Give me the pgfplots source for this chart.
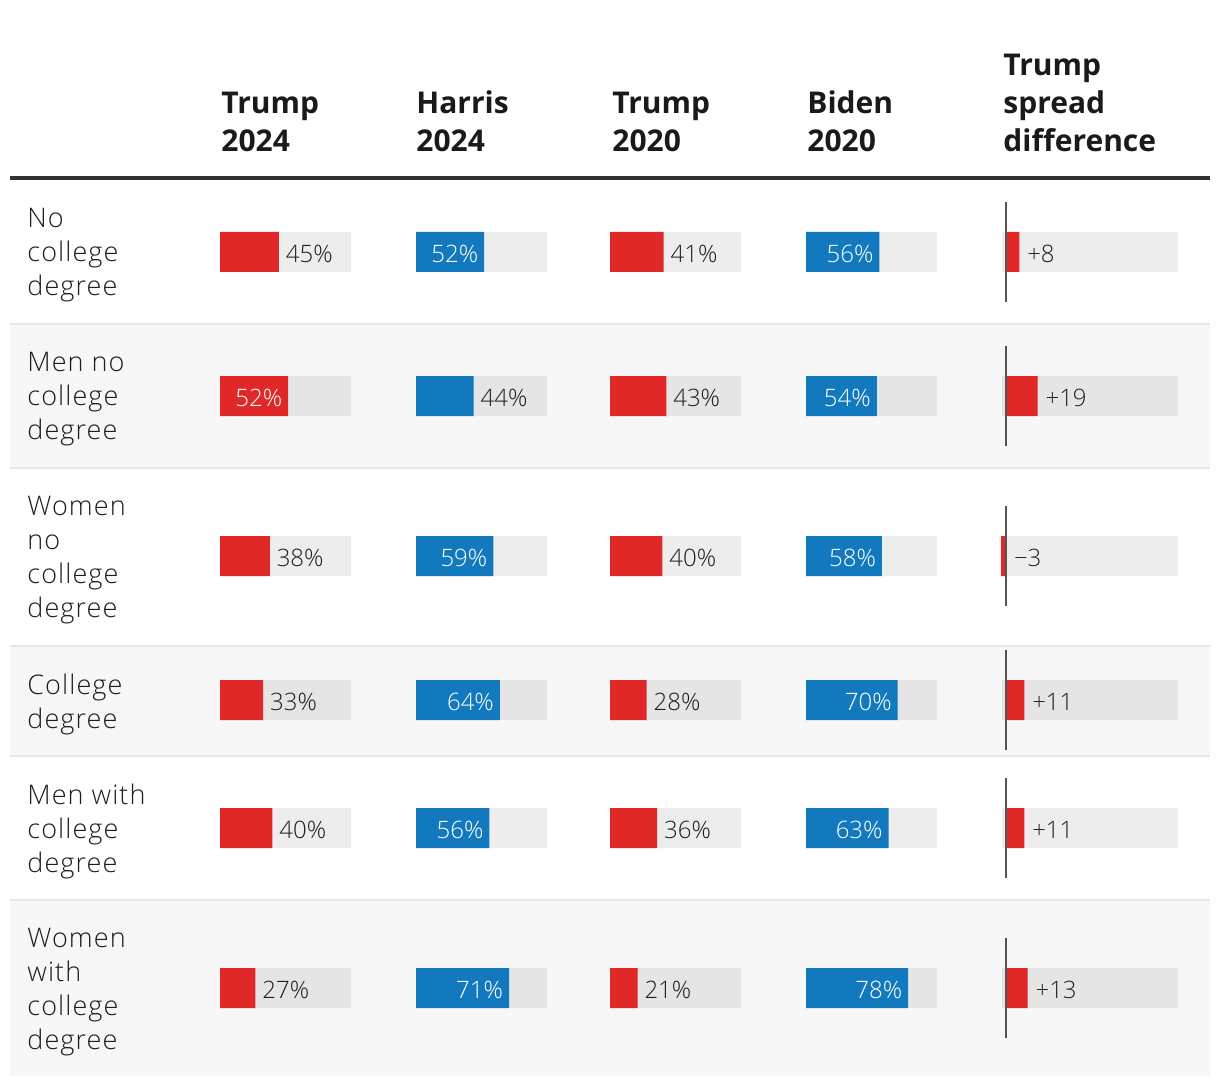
\documentclass[border=0pt]{standalone}
\usepackage{pgfplots}
\pgfplotsset{compat=1.18}
\usepackage{pgfplotstable}
\usepackage{fontspec}
\setmainfont{Open Sans}[UprightFont={* Light}, BoldFont={* Bold}]
\newfontfamily\rowfont{Open Sans}[UprightFont={* Light}, LetterSpace=4]
\definecolor{tred}{HTML}{E02828}
\definecolor{hblue}{HTML}{1279BE}
\definecolor{rowgray}{HTML}{F7F7F7}
\definecolor{sepgray}{HTML}{E6E6E6}
\definecolor{hdrline}{HTML}{333333}
\definecolor{hdrtext}{HTML}{1A1A1A}
\definecolor{textdark}{HTML}{1E1E1E}
\definecolor{zeroline}{HTML}{555555}

% row centre (px from top), Trump 2024, Harris 2024, Trump 2020, Biden 2020, spread
\pgfplotstableread{
y   t24 h24 t20 b20 sp
252 45  52  41  56  8
396 52  44  43  54  19
556 38  59  40  58  -3
700 33  64  28  70  11
828 40  56  36  63  11
988 27  71  21  78  13
}\data

\pgfplotsset{
  colax/.style={scale only axis, anchor=south west, width=65.5pt, height=543pt,
    xmin=0, xmax=100, ymin=0, ymax=1086, y dir=reverse, hide axis, clip=false},
  track/.style={xbar, bar width=20pt, draw=none, fill=black, fill opacity=0.07},
  pct/.style n args={2}{xbar, bar width=20pt, draw=none, fill=#1,
    visualization depends on={\thisrow{#2}\as\rawv},
    nodes near coords={\pgfmathtruncatemacro\iv{round(\rawv)}\ifdim\rawv pt<50pt
        \makebox[0pt][l]{\hspace*{3.5pt}\textcolor{textdark}{\iv\%}}%
      \else
        \makebox[0pt][r]{\textcolor{white}{\iv\%}\hspace*{3pt}}%
      \fi},
    every node near coord/.append style={inner sep=0pt, anchor=center, yshift=-1pt,
      font=\fontsize{12}{14}\selectfont}},
}

\begin{document}
\begin{tikzpicture}
\useasboundingbox (0,0) rectangle (610pt,543pt);
% ---------- background, rules and text ----------
\begin{axis}[at={(0,0)}, anchor=south west, scale only axis, width=610pt, height=543pt,
  xmin=0, xmax=1220, ymin=0, ymax=1086, y dir=reverse, hide axis, clip=false]
  \fill[rowgray] (axis cs:10,324) rectangle (axis cs:1210,467);
  \fill[rowgray] (axis cs:10,646) rectangle (axis cs:1210,755);
  \fill[rowgray] (axis cs:10,900) rectangle (axis cs:1210,1076);
  \draw[sepgray, line width=1pt] (axis cs:10,323.5) -- (axis cs:1210,323.5);
  \draw[sepgray, line width=1pt] (axis cs:10,467.5) -- (axis cs:1210,467.5);
  \draw[sepgray, line width=1pt] (axis cs:10,645.5) -- (axis cs:1210,645.5);
  \draw[sepgray, line width=1pt] (axis cs:10,755.5) -- (axis cs:1210,755.5);
  \draw[sepgray, line width=1pt] (axis cs:10,899.5) -- (axis cs:1210,899.5);
  \draw[hdrline, line width=1.75pt] (axis cs:10,178) -- (axis cs:1210,178);
  % headers
  \begin{scope}[every node/.style={anchor=south west, inner sep=0pt, align=left,
      text=hdrtext, font=\bfseries\fontsize{15}{19}\selectfont}]
    \node at (axis cs:221,152) {Trump\\2024};
    \node at (axis cs:416,152) {Harris\\2024};
    \node at (axis cs:612,152) {Trump\\2020};
    \node at (axis cs:807,152) {Biden\\2020};
    \node at (axis cs:1003,152) {Trump\\spread\\difference};
  \end{scope}
  % row labels
  \begin{scope}[every node/.style={anchor=north west, inner sep=0pt, align=left,
      text=textdark, font=\rowfont\fontsize{13.5}{17}\selectfont}]
    \node at (axis cs:27,208) {No\\college\\degree};
    \node at (axis cs:27,352) {Men no\\college\\degree};
    \node at (axis cs:27,496) {Women\\no\\college\\degree};
    \node at (axis cs:27,674) {College\\degree};
    \node at (axis cs:27,784) {Men with\\college\\degree};
    \node at (axis cs:27,928) {Women\\with\\college\\degree};
  \end{scope}
\end{axis}

% ---------- Trump 2024 ----------
\begin{axis}[colax, at={(110pt,0pt)}]
  \addplot[track] table[x expr=100, y=y]{\data};
  \addplot[pct={tred}{t24}] table[x=t24, y=y]{\data};
\end{axis}
% ---------- Harris 2024 ----------
\begin{axis}[colax, at={(208pt,0pt)}]
  \addplot[track] table[x expr=100, y=y]{\data};
  \addplot[pct={hblue}{h24}] table[x=h24, y=y]{\data};
\end{axis}
% ---------- Trump 2020 ----------
\begin{axis}[colax, at={(305pt,0pt)}]
  \addplot[track] table[x expr=100, y=y]{\data};
  \addplot[pct={tred}{t20}] table[x=t20, y=y]{\data};
\end{axis}
% ---------- Biden 2020 ----------
\begin{axis}[colax, at={(403pt,0pt)}]
  \addplot[track] table[x expr=100, y=y]{\data};
  \addplot[pct={hblue}{b20}] table[x=b20, y=y]{\data};
\end{axis}
% ---------- Trump spread difference ----------
\begin{axis}[colax, at={(501pt,0pt)}, width=88pt, xmin=-2.4, xmax=103.6]
  \fill[black, fill opacity=0.07] (axis cs:-2.4,232) rectangle (axis cs:103.6,272);
  \fill[black, fill opacity=0.07] (axis cs:-2.4,376) rectangle (axis cs:103.6,416);
  \fill[black, fill opacity=0.07] (axis cs:-2.4,536) rectangle (axis cs:103.6,576);
  \fill[black, fill opacity=0.07] (axis cs:-2.4,680) rectangle (axis cs:103.6,720);
  \fill[black, fill opacity=0.07] (axis cs:-2.4,808) rectangle (axis cs:103.6,848);
  \fill[black, fill opacity=0.07] (axis cs:-2.4,968) rectangle (axis cs:103.6,1008);
  \addplot[xbar, bar width=20pt, draw=none, fill=tred,
    visualization depends on={\thisrow{sp}\as\rawv},
    nodes near coords={\pgfmathtruncatemacro\iv{round(abs(\rawv))}\ifdim\rawv pt<0pt
        \makebox[0pt][l]{\hspace*{6.5pt}\textcolor{textdark}{−\iv}}%
      \else
        \makebox[0pt][l]{\hspace*{4pt}\textcolor{textdark}{+\iv}}%
      \fi},
    every node near coord/.append style={inner sep=0pt, anchor=center, yshift=-1pt,
      font=\fontsize{12}{14}\selectfont}]
    table[x=sp, y=y]{\data};
  \draw[zeroline, line width=1pt] (axis cs:0,202) -- (axis cs:0,302);
  \draw[zeroline, line width=1pt] (axis cs:0,346) -- (axis cs:0,446);
  \draw[zeroline, line width=1pt] (axis cs:0,506) -- (axis cs:0,606);
  \draw[zeroline, line width=1pt] (axis cs:0,650) -- (axis cs:0,750);
  \draw[zeroline, line width=1pt] (axis cs:0,778) -- (axis cs:0,878);
  \draw[zeroline, line width=1pt] (axis cs:0,938) -- (axis cs:0,1038);
\end{axis}
\end{tikzpicture}
\end{document}
